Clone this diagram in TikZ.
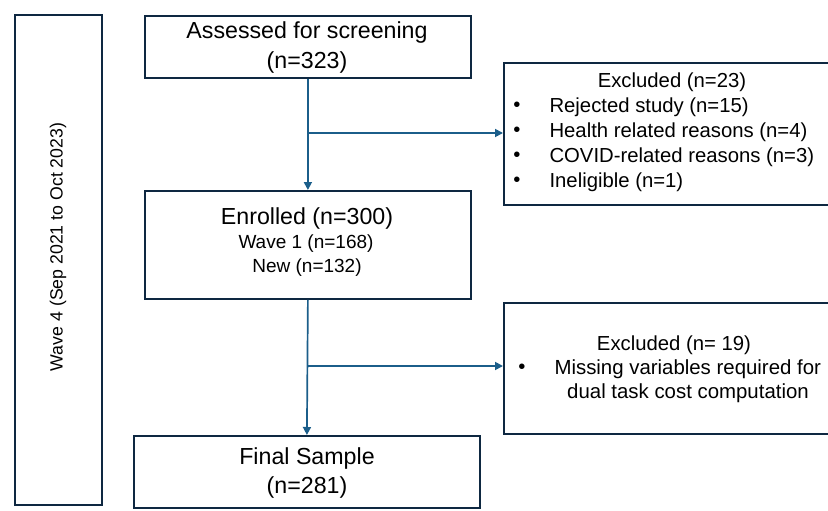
\documentclass[tikz,border=0pt]{standalone}
\usepackage{fontspec}
\setmainfont{Liberation Sans}
\usetikzlibrary{arrows.meta}
\definecolor{navy}{HTML}{0E2841}
\definecolor{arrowblue}{HTML}{1B5E8A}
\begin{document}
\begin{tikzpicture}[x=1pt,y=-1pt,
  box/.style={draw=navy,line width=1.8pt,inner sep=0pt,anchor=north west},
  conn/.style={draw=arrowblue,line width=1.7pt,-{Triangle[length=8pt,width=8pt]}},
  big/.style={font=\fontsize{23.2}{27}\selectfont},
  small/.style={font=\fontsize{19}{22}\selectfont},
  exc/.style={font=\fontsize{20.3}{24}\selectfont},
  wavef/.style={font=\fontsize{17.7}{21}\selectfont}]
\useasboundingbox (0,0) rectangle (828,511);

% boxes
\node[box,minimum width=87pt,minimum height=490pt] (wave) at (14,14) {};
\node[box,minimum width=326pt,minimum height=62pt] (assess) at (144,15) {};
\node[box,minimum width=326pt,minimum height=108pt] (enrol) at (144,190) {};
\node[box,minimum width=346pt,minimum height=72pt] (final) at (133,435) {};
\node[box,minimum width=335pt,minimum height=142pt] (ex1) at (503,62) {};
\node[box,minimum width=335pt,minimum height=131pt] (ex2) at (503,302) {};

% texts
\node[wavef,rotate=90] (wavet) at (58,247) {Wave 4 (Sep 2021 to Oct 2023)};

\node[big] (a1) at (307,33) {Assessed for screening};
\node[big] (a2) at (307,62) {(n=323)};

\node[big] (e1) at (307,218) {Enrolled (n=300)};
\node[small] (e2) at (306,244) {Wave 1 (n=168)};
\node[small] (e3) at (307,268) {New (n=132)};

\node[big] (f1) at (307,458) {Final Sample};
\node[big] (f2) at (307,487) {(n=281)};

\node[exc] (x1h) at (672,82) {Excluded (n=23)};
\node[exc] (x1b1) at (517,107) {•};
\node[exc,anchor=west] (x1t1) at (546,107) {Rejected study (n=15)};
\node[exc] (x1b2) at (517,132) {•};
\node[exc,anchor=west] (x1t2) at (546,132) {Health related reasons (n=4)};
\node[exc] (x1b3) at (517,157) {•};
\node[exc,anchor=west] (x1t3) at (546,157) {COVID-related reasons (n=3)};
\node[exc] (x1b4) at (517,182) {•};
\node[exc,anchor=west] (x1t4) at (546,182) {Ineligible (n=1)};

\node[exc] (x2h) at (674,345) {Excluded (n= 19)};
\node[exc] (x2b1) at (522,369) {•};
\node[exc,anchor=west,font=\fontsize{20.4}{24}\selectfont] (x2t1) at (551,369) {Missing variables required for};
\node[exc,font=\fontsize{20.4}{24}\selectfont] (x2t2) at (688,393) {dual task cost computation};

% connectors
\coordinate (br1) at (307,133);
\coordinate (br2) at (307,366);
\draw[conn] (assess.south) -- (enrol.north);
\draw[conn] (br1) -- (br1 -| ex1.west);
\draw[conn] (enrol.south) -- (final.north);
\draw[conn] (br2) -- (br2 -| ex2.west);
\end{tikzpicture}
\end{document}
